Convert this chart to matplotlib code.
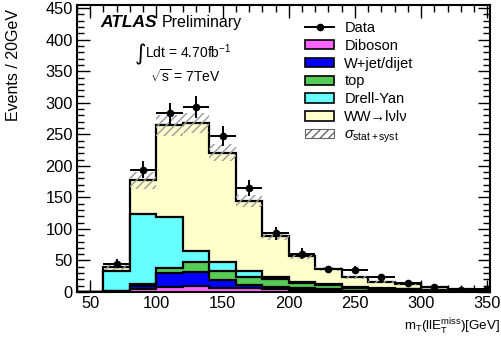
import numpy as np
import matplotlib
matplotlib.use("Agg")
import matplotlib.pyplot as plt
from matplotlib.patches import Patch
from matplotlib.lines import Line2D
from matplotlib.ticker import MultipleLocator

plt.rcParams['font.family'] = ['Liberation Sans', 'DejaVu Sans']
plt.rcParams['mathtext.fontset'] = 'custom'
plt.rcParams['mathtext.rm'] = 'Liberation Sans'
plt.rcParams['mathtext.it'] = 'Liberation Sans:italic'
plt.rcParams['mathtext.bf'] = 'Liberation Sans:bold'
plt.rcParams['hatch.color'] = '#999999'
plt.rcParams['hatch.linewidth'] = 1.0

# ---- data ----
bin_edges = [40, 60, 80, 100, 120, 140, 160, 180, 200, 220, 240, 260, 280, 300, 320, 340, 360]
diboson = [0, 0, 5, 8, 10, 7, 6, 4, 3, 2, 1, 1, 0.5, 0.5, 0.3, 0.2]
wjet    = [0, 1, 5, 22, 22, 12, 5, 4, 3, 2, 1, 1, 1, 0.5, 0.3, 0.2]
top     = [0, 1, 3, 8, 16, 15, 13, 12, 9, 7, 5, 3.5, 3, 2, 1, 0.5]
drellyan = [0, 32, 110, 81, 17, 14, 9, 3, 1, 1, 1, 0.5, 0.5, 0.3, 0.2, 0.1]
ww      = [0, 5, 54, 145, 203, 173, 111, 66, 41, 25, 15, 10, 8, 4, 2.2, 2]
mc_unc  = [0, 4, 13, 16, 16, 13, 9, 6, 4, 3, 2, 2, 1.5, 1, 1, 0.5]

data_x   = [70, 90, 110, 130, 150, 170, 190, 210, 230, 250, 270, 290, 310, 330, 350]
data_y   = [45, 194, 283, 293, 247, 165, 93, 61, 36, 35, 23, 15, 8, 3, 5]
data_err = [7, 14, 17, 17, 16, 13, 10, 8, 6, 6, 5, 4, 3, 2, 2]
data_xerr = [10] * len(data_x)

labels = ['Diboson', 'W+jet/dijet', 'top', 'Drell-Yan', 'WW\u2192l\u03bdl\u03bd']
colors = ['#ff66ff', '#0000ff', '#55cc55', '#66ffff', '#ffffcc']

# ---- figure ----
fig = plt.figure(figsize=(5.01, 3.5), dpi=100)
ax = fig.add_axes([0.1537, 0.1657, 0.978 - 0.1537, 0.9857 - 0.1657])

comps = [diboson, wjet, top, drellyan, ww]
cum = np.cumsum(np.array(comps, dtype=float), axis=0)
edges = np.array(bin_edges, dtype=float)

# draw from the top of the stack down so that lower components overlay
for i in range(len(comps) - 1, -1, -1):
    ax.stairs(cum[i], edges, baseline=0, fill=True, facecolor=colors[i],
              edgecolor='none', zorder=2 + (len(comps) - i) * 0.1)
    ax.stairs(cum[i], edges, baseline=None, color='black', linewidth=1.6,
              zorder=2.05 + (len(comps) - i) * 0.1)

total = cum[-1]
unc = np.array(mc_unc, dtype=float)
ax.stairs(total + unc, edges, baseline=total - unc, fill=True, facecolor='none',
          edgecolor='#999999', hatch='////', linewidth=0, zorder=3)

ax.errorbar(data_x, data_y, yerr=data_err, xerr=data_xerr, fmt='o', color='black',
            markersize=4.5, elinewidth=1.4, capsize=0, zorder=5, clip_on=True)

ax.set_xlim(40, 352)
ax.set_ylim(0, 455)
ax.xaxis.set_major_locator(MultipleLocator(50))
ax.xaxis.set_minor_locator(MultipleLocator(10))
ax.yaxis.set_major_locator(MultipleLocator(50))
ax.yaxis.set_minor_locator(MultipleLocator(10))
ax.tick_params(which='both', direction='in', top=True, right=True, labelsize=11.8,
               width=1.0, pad=3)
ax.tick_params(which='major', length=9)
ax.tick_params(which='minor', length=5)
for s in ax.spines.values():
    s.set_linewidth(1.5)

ax.set_ylabel('Events / 20GeV', fontsize=11.5)
ax.yaxis.set_label_coords(-0.135, 0.79)
fig.text(0.998, 0.055, r'$\mathrm{m_{T}(llE_{T}^{miss})}$[GeV]', ha='right', va='baseline',
         fontsize=9.6)

# ---- annotations ----
ax.text(0.056, 0.923, 'ATLAS', transform=ax.transAxes, fontsize=12.5,
        fontweight='bold', fontstyle='italic', va='baseline')
ax.text(0.206, 0.923, 'Preliminary', transform=ax.transAxes, fontsize=11.5, va='baseline')
ax.text(0.139, 0.808, '\u222b', transform=ax.transAxes, fontsize=16, va='baseline',
        family=['DejaVu Sans'])
ax.text(0.165, 0.815, r'Ldt = 4.70fb$^{\mathregular{-1}}$', transform=ax.transAxes,
        fontsize=10, va='baseline')
ax.text(0.177, 0.733, r'$\sqrt{\mathrm{s}}$ = 7TeV', transform=ax.transAxes,
        fontsize=10, va='baseline')

# ---- legend ----
handles = [Line2D([], [], color='black', marker='o', markersize=4.5, linewidth=1.4)]
for c in colors:
    handles.append(Patch(facecolor=c, edgecolor='black', linewidth=1.2))
handles.append(Patch(facecolor='white', edgecolor='#666666', hatch='////', linewidth=0.8))
leg_labels = ['Data'] + labels + [r'$\sigma_{\mathregular{stat+syst}}$']
leg = ax.legend(handles, leg_labels, loc='upper left', bbox_to_anchor=(0.552, 0.944),
                frameon=False, fontsize=10.5, handlelength=2.0, handleheight=0.6,
                handletextpad=0.7, labelspacing=0.26, borderaxespad=0, borderpad=0)

fig.savefig('out.png', dpi=100)
